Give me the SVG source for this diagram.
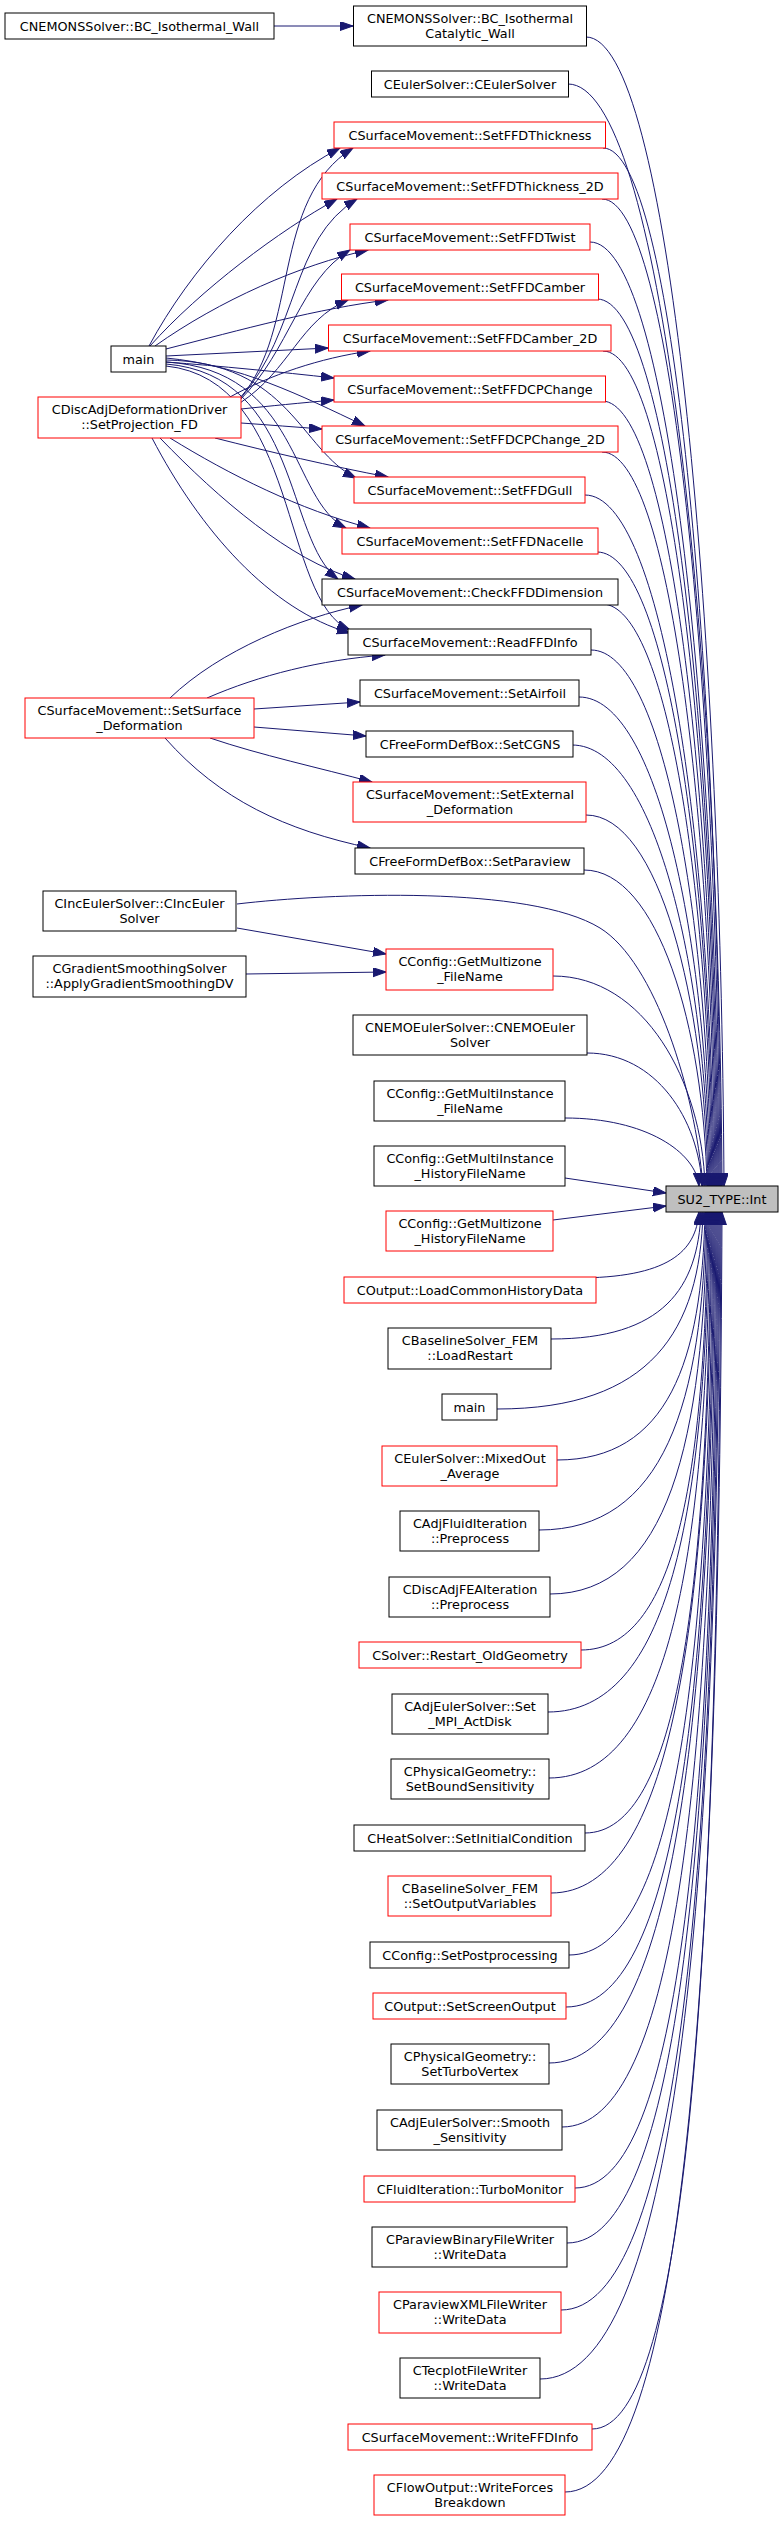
<svg xmlns="http://www.w3.org/2000/svg" width="783" height="2521" viewBox="0 0 783 2521">
<defs>
<marker id="ah" markerUnits="userSpaceOnUse" markerWidth="14" markerHeight="10" refX="13" refY="4.5" orient="auto" viewBox="0 0 14 10"><path d="M0,0 L13,4.5 L0,9 z" fill="#191970" stroke="#191970" stroke-width="1"/></marker>
<style>
.n rect{fill:#fff;stroke:#000;stroke-width:1}
.r rect{fill:#fff;stroke:#ff0000;stroke-width:1}
.g rect{fill:#bfbfbf;stroke:#000;stroke-width:1}
text{font-family:"DejaVu Sans","Liberation Sans",sans-serif;font-size:12.8px;text-anchor:middle;fill:#000}
#edges path{fill:none;stroke:#191970;stroke-width:1;marker-end:url(#ah)}
</style>
</defs>
<rect width="783" height="2521" fill="#fff"/>
<g id="edges">
<path d="M274,26 L353,26"/>
<path d="M149,346 C190,270 260,190 340,148"/>
<path d="M240,398 C300,330 270,200 353,148"/>
<path d="M150,346 C200,290 280,230 337,199"/>
<path d="M240,399 C300,330 290,240 357,199"/>
<path d="M155,346 C220,300 300,265 368,250"/>
<path d="M240,400 C290,350 300,280 350,250"/>
<path d="M166,349 C240,330 320,308 388,300"/>
<path d="M240,403 C290,370 300,320 348,300"/>
<path d="M166,356 L328,348"/>
<path d="M230,397 C270,375 320,358 370,351"/>
<path d="M166,362 C220,366 280,372 334,378"/>
<path d="M241,409 C270,406 300,403 334,400"/>
<path d="M166,358 C240,365 300,395 365,426"/>
<path d="M241,423 C270,425 295,427 322,429"/>
<path d="M166,360 C290,362 300,450 356,478"/>
<path d="M215,438 C270,452 330,466 388,477"/>
<path d="M166,362 C300,370 290,500 346,528"/>
<path d="M170,438 C230,475 300,510 370,528"/>
<path d="M166,364 C300,375 285,540 338,579"/>
<path d="M160,438 C220,500 290,560 355,579"/>
<path d="M166,366 C300,380 280,600 350,630"/>
<path d="M152,438 C200,530 270,610 350,633"/>
<path d="M170,698 C220,650 300,618 362,605"/>
<path d="M207,698 C260,675 320,660 385,655"/>
<path d="M254,709 L360,702"/>
<path d="M254,727 L366,736"/>
<path d="M210,738 C260,755 320,768 372,782"/>
<path d="M165,738 C220,800 285,830 370,848"/>
<path d="M237,928 L386,954"/>
<path d="M246,974 L386,972"/>
<path d="M586,37 C668.8,37 721,611.5 724,1186"/>
<path d="M568,84 C660.4,84 719,635 722,1186"/>
<path d="M603,148 C673.8,148 718,667 721,1186"/>
<path d="M602,199 C672.8,199 717,692.5 720,1186"/>
<path d="M590,242 C667.4,242 716,714 719,1186"/>
<path d="M597,299 C669.6,299 715,742.5 718,1186"/>
<path d="M603,351 C671.4,351 714,768.5 717,1186"/>
<path d="M602,401 C670.4,401 713,793.5 716,1186"/>
<path d="M602,452 C669.8,452 712,819 715,1186"/>
<path d="M585,495 C662.4,495 711,840.5 714,1186"/>
<path d="M597,552 C666.6,552 710,869 713,1186"/>
<path d="M602,604 C668,604 709,895 712,1186"/>
<path d="M591,650 C663,650 708,918 711,1186"/>
<path d="M579,697 C657.6,697 707,941.5 710,1186"/>
<path d="M572,745 C654.2,745 706,965.5 709,1186"/>
<path d="M586,815 C659.2,815 705,1000.5 708,1186"/>
<path d="M584,870 C657.8,870 704,1028 707,1186"/>
<path d="M237,904 C330,893 530,885 600,928 C655,962 695,1090 703,1186"/>
<path d="M553,976 C644.2,976 702,1081 705,1186"/>
<path d="M587,1053 C656,1053 699,1119.5 702,1186"/>
<path d="M565,1118 C645.4,1118 696,1152 699,1186"/>
<path d="M565,1178 L666,1193"/>
<path d="M553,1220 L666,1206"/>
<path d="M575,1278 C668,1278 696,1252 699,1212"/>
<path d="M551,1339 C663.5,1339 698,1288 701,1212"/>
<path d="M497,1409 C651.5,1409 700,1330 703,1212"/>
<path d="M557,1460 C668,1460 702,1361 705,1212"/>
<path d="M539,1530 C664,1530 703,1403 706,1212"/>
<path d="M550,1594 C668,1594 704,1441 707,1212"/>
<path d="M581,1650 C676,1650 705,1475 708,1212"/>
<path d="M548,1712 C669,1712 706,1512 709,1212"/>
<path d="M549,1778 C670,1778 707,1552 710,1212"/>
<path d="M585,1833 C679.5,1833 708,1585 711,1212"/>
<path d="M551,1893 C672,1893 709,1621 712,1212"/>
<path d="M569,1955 C677,1955 710,1658 713,1212"/>
<path d="M566,2007 C677,2007 711,1689 714,1212"/>
<path d="M549,2063 C673.5,2063 712,1723 715,1212"/>
<path d="M562,2127 C677.5,2127 713,1761 716,1212"/>
<path d="M575,2188 C681.5,2188 714,1798 717,1212"/>
<path d="M567,2243 C680,2243 715,1831 718,1212"/>
<path d="M561,2310 C679.5,2310 716,1871 719,1212"/>
<path d="M540,2379 C675,2379 717,1912 720,1212"/>
<path d="M592,2429 C689,2429 718,1942 721,1212"/>
<path d="M565,2492 C683,2492 719,1980 722,1212"/>
</g>
<g id="n_bcwall" class="n"><rect x="5" y="13" width="269" height="26"/><text x="139.5" y="30.6">CNEMONSSolver::BC_Isothermal_Wall</text></g>
<g id="n_main1" class="n"><rect x="111" y="346" width="55" height="26"/><text x="138.5" y="363.6">main</text></g>
<g id="n_discadj" class="r"><rect x="38" y="397" width="203" height="41"/><text x="139.5" y="414">CDiscAdjDeformationDriver</text><text x="139.5" y="429">::SetProjection_FD</text></g>
<g id="n_setsurf" class="r"><rect x="25" y="698" width="229" height="40"/><text x="139.5" y="714.5">CSurfaceMovement::SetSurface</text><text x="139.5" y="729.5">_Deformation</text></g>
<g id="n_inceuler" class="n"><rect x="43" y="891" width="193" height="40"/><text x="139.5" y="907.5">CIncEulerSolver::CIncEuler</text><text x="139.5" y="922.5">Solver</text></g>
<g id="n_gradsmooth" class="n"><rect x="33" y="956" width="213" height="41"/><text x="139.5" y="973">CGradientSmoothingSolver</text><text x="139.5" y="988">::ApplyGradientSmoothingDV</text></g>
<g id="n_catwall" class="n"><rect x="353.5" y="6" width="233" height="40"/><text x="470" y="22.5">CNEMONSSolver::BC_Isothermal</text><text x="470" y="37.5">Catalytic_Wall</text></g>
<g id="n_eulersolver" class="n"><rect x="371.5" y="71" width="197" height="26"/><text x="470" y="88.6">CEulerSolver::CEulerSolver</text></g>
<g id="n_thick" class="r"><rect x="334" y="122" width="271.5" height="26"/><text x="470" y="139.6">CSurfaceMovement::SetFFDThickness</text></g>
<g id="n_thick2d" class="r"><rect x="322" y="173" width="296" height="26"/><text x="470" y="190.6">CSurfaceMovement::SetFFDThickness_2D</text></g>
<g id="n_twist" class="r"><rect x="350" y="224" width="240" height="26"/><text x="470" y="241.6">CSurfaceMovement::SetFFDTwist</text></g>
<g id="n_camber" class="r"><rect x="341.5" y="274" width="257" height="26"/><text x="470" y="291.6">CSurfaceMovement::SetFFDCamber</text></g>
<g id="n_camber2d" class="r"><rect x="328.5" y="325" width="282.5" height="26"/><text x="470" y="342.6">CSurfaceMovement::SetFFDCamber_2D</text></g>
<g id="n_cpchange" class="r"><rect x="334" y="376" width="271.5" height="26"/><text x="470" y="393.6">CSurfaceMovement::SetFFDCPChange</text></g>
<g id="n_cpchange2d" class="r"><rect x="322" y="426" width="296" height="26"/><text x="470" y="443.6">CSurfaceMovement::SetFFDCPChange_2D</text></g>
<g id="n_gull" class="r"><rect x="354" y="477" width="231" height="26"/><text x="470" y="494.6">CSurfaceMovement::SetFFDGull</text></g>
<g id="n_nacelle" class="r"><rect x="342" y="528" width="256" height="26"/><text x="470" y="545.6">CSurfaceMovement::SetFFDNacelle</text></g>
<g id="n_checkffd" class="n"><rect x="322" y="579" width="296" height="26"/><text x="470" y="596.6">CSurfaceMovement::CheckFFDDimension</text></g>
<g id="n_readffd" class="n"><rect x="348" y="629" width="243" height="26"/><text x="470" y="646.6">CSurfaceMovement::ReadFFDInfo</text></g>
<g id="n_airfoil" class="n"><rect x="360" y="680" width="219" height="26"/><text x="470" y="697.6">CSurfaceMovement::SetAirfoil</text></g>
<g id="n_cgns" class="n"><rect x="366" y="731" width="207" height="26"/><text x="470" y="748.6">CFreeFormDefBox::SetCGNS</text></g>
<g id="n_external" class="r"><rect x="353" y="782" width="233" height="40"/><text x="470" y="798.5">CSurfaceMovement::SetExternal</text><text x="470" y="813.5">_Deformation</text></g>
<g id="n_paraview" class="n"><rect x="355" y="848" width="229" height="26"/><text x="470" y="865.6">CFreeFormDefBox::SetParaview</text></g>
<g id="n_mzfile" class="r"><rect x="386" y="949" width="167" height="41"/><text x="470" y="965.5">CConfig::GetMultizone</text><text x="470" y="980.5">_FileName</text></g>
<g id="n_nemoeuler" class="n"><rect x="353" y="1015" width="234" height="40"/><text x="470" y="1031.5">CNEMOEulerSolver::CNEMOEuler</text><text x="470" y="1046.5">Solver</text></g>
<g id="n_mifile" class="n"><rect x="374" y="1081" width="191" height="40"/><text x="470" y="1097.5">CConfig::GetMultiInstance</text><text x="470" y="1112.5">_FileName</text></g>
<g id="n_mihist" class="n"><rect x="374" y="1146" width="191" height="40"/><text x="470" y="1162.5">CConfig::GetMultiInstance</text><text x="470" y="1177.5">_HistoryFileName</text></g>
<g id="n_mzhist" class="r"><rect x="386" y="1211" width="167" height="40"/><text x="470" y="1227.5">CConfig::GetMultizone</text><text x="470" y="1242.5">_HistoryFileName</text></g>
<g id="n_int" class="g"><rect x="666" y="1186" width="112" height="26"/><text x="722" y="1203.6">SU2_TYPE::Int</text></g>
<g id="n_loadhist" class="r"><rect x="344" y="1277" width="252" height="26"/><text x="470" y="1294.6">COutput::LoadCommonHistoryData</text></g>
<g id="n_loadrestart" class="n"><rect x="388" y="1328" width="163" height="41"/><text x="470" y="1344.5">CBaselineSolver_FEM</text><text x="470" y="1359.5">::LoadRestart</text></g>
<g id="n_main2" class="n"><rect x="442" y="1394" width="55" height="26"/><text x="469.5" y="1411.6">main</text></g>
<g id="n_mixedout" class="r"><rect x="382" y="1446" width="175" height="40"/><text x="470" y="1462.5">CEulerSolver::MixedOut</text><text x="470" y="1477.5">_Average</text></g>
<g id="n_adjfluid" class="n"><rect x="400" y="1511" width="139" height="40"/><text x="470" y="1527.5">CAdjFluidIteration</text><text x="470" y="1542.5">::Preprocess</text></g>
<g id="n_discadjfea" class="n"><rect x="389" y="1577" width="161" height="40"/><text x="470" y="1593.5">CDiscAdjFEAIteration</text><text x="470" y="1608.5">::Preprocess</text></g>
<g id="n_restartold" class="r"><rect x="359" y="1642" width="222" height="26"/><text x="470" y="1659.6">CSolver::Restart_OldGeometry</text></g>
<g id="n_actdisk" class="n"><rect x="392" y="1694" width="156" height="40"/><text x="470" y="1710.5">CAdjEulerSolver::Set</text><text x="470" y="1725.5">_MPI_ActDisk</text></g>
<g id="n_boundsens" class="n"><rect x="391" y="1759" width="158" height="40"/><text x="470" y="1775.5">CPhysicalGeometry::</text><text x="470" y="1790.5">SetBoundSensitivity</text></g>
<g id="n_initcond" class="n"><rect x="354" y="1825" width="231" height="26"/><text x="470" y="1842.6">CHeatSolver::SetInitialCondition</text></g>
<g id="n_outvars" class="r"><rect x="388" y="1876" width="163" height="40"/><text x="470" y="1892.5">CBaselineSolver_FEM</text><text x="470" y="1907.5">::SetOutputVariables</text></g>
<g id="n_postproc" class="n"><rect x="370" y="1942" width="199" height="26"/><text x="470" y="1959.6">CConfig::SetPostprocessing</text></g>
<g id="n_screenout" class="r"><rect x="373" y="1993" width="193" height="26"/><text x="470" y="2010.6">COutput::SetScreenOutput</text></g>
<g id="n_turbovertex" class="n"><rect x="391" y="2044" width="158" height="40"/><text x="470" y="2060.5">CPhysicalGeometry::</text><text x="470" y="2075.5">SetTurboVertex</text></g>
<g id="n_smoothsens" class="n"><rect x="377" y="2110" width="185" height="40"/><text x="470" y="2126.5">CAdjEulerSolver::Smooth</text><text x="470" y="2141.5">_Sensitivity</text></g>
<g id="n_turbomon" class="r"><rect x="364" y="2176" width="211" height="26"/><text x="470" y="2193.6">CFluidIteration::TurboMonitor</text></g>
<g id="n_pvbinary" class="n"><rect x="372" y="2227" width="195" height="40"/><text x="470" y="2243.5">CParaviewBinaryFileWriter</text><text x="470" y="2258.5">::WriteData</text></g>
<g id="n_pvxml" class="r"><rect x="379" y="2292" width="182" height="41"/><text x="470" y="2308.5">CParaviewXMLFileWriter</text><text x="470" y="2323.5">::WriteData</text></g>
<g id="n_tecplot" class="n"><rect x="400" y="2358" width="140" height="40"/><text x="470" y="2374.5">CTecplotFileWriter</text><text x="470" y="2389.5">::WriteData</text></g>
<g id="n_writeffd" class="r"><rect x="348" y="2424" width="244" height="26"/><text x="470" y="2441.6">CSurfaceMovement::WriteFFDInfo</text></g>
<g id="n_forces" class="r"><rect x="374" y="2475" width="191" height="40"/><text x="470" y="2491.5">CFlowOutput::WriteForces</text><text x="470" y="2506.5">Breakdown</text></g>
</svg>
